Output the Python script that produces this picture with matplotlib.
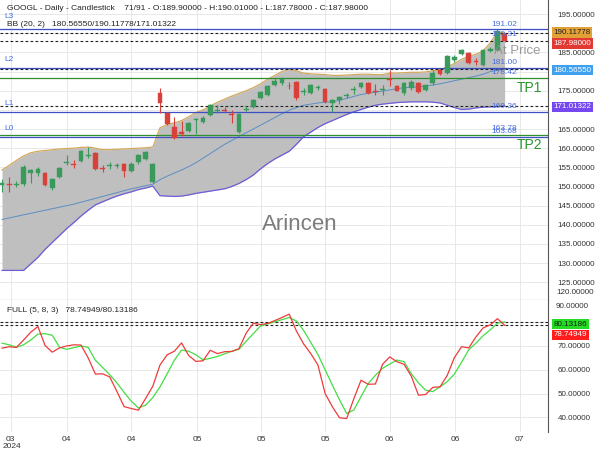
import matplotlib
matplotlib.use("Agg")
import matplotlib.pyplot as plt
import matplotlib.transforms as mtransforms
import numpy as np

plt.rcParams["font.family"] = ["Liberation Sans", "DejaVu Sans"]

# daily OHLC, GOOGL
opens = [150.4, 150.6, 150.4, 150.6, 153.4, 153.5, 153.4, 149.7, 152.5, 156.2,
         155.8, 156.6, 158.0, 158.7, 154.7, 155.3, 155.3, 155.9, 154.1, 156.3,
         157.2, 151.1, 174.3, 169.2, 165.5, 164.2, 164.5, 167.4, 166.8, 168.6,
         169.8, 170.0, 168.8, 164.2, 170.0, 170.8, 173.0, 173.9, 176.5, 176.9,
         176.3, 177.2, 174.7, 174.5, 175.8, 175.4, 171.8, 172.7, 173.5, 175.3,
         176.0, 176.9, 174.9, 175.3, 177.9, 176.2, 174.3, 175.6, 177.1, 175.2,
         176.9, 180.3, 179.6, 182.9, 184.7, 184.8, 182.7, 181.8, 185.3, 185.7,
         189.9]
highs = [152.0, 152.5, 151.5, 155.5, 154.6, 155.0, 153.8, 152.3, 155.2, 158.2,
         156.8, 159.5, 160.2, 159.0, 155.5, 156.3, 156.2, 156.2, 156.4, 158.4,
         159.3, 156.2, 175.6, 169.5, 168.2, 167.0, 166.9, 167.9, 168.3, 171.5,
         171.2, 170.8, 169.9, 169.3, 171.0, 172.9, 174.9, 176.5, 178.4, 178.6,
         177.3, 177.5, 175.6, 176.8, 176.6, 175.7, 172.9, 173.7, 174.3, 176.2,
         177.2, 177.2, 176.8, 176.4, 180.4, 176.5, 177.2, 177.7, 177.4, 176.8,
         180.5, 180.6, 184.4, 184.2, 186.0, 185.1, 183.6, 185.8, 186.3, 191.02,
         190.01]
lows = [148.5, 148.5, 149.8, 150.2, 151.0, 152.8, 150.0, 149.2, 152.2, 155.5,
        154.8, 156.4, 157.5, 154.3, 153.8, 154.6, 154.8, 152.4, 153.8, 156.0,
        157.0, 150.8, 169.2, 166.0, 162.4, 163.3, 164.3, 163.6, 166.5, 168.4,
        169.3, 169.4, 166.5, 164.0, 169.6, 170.5, 172.8, 173.6, 176.2, 176.6,
        175.5, 172.6, 173.8, 174.2, 175.2, 171.8, 169.5, 171.5, 173.0, 174.2,
        175.7, 174.2, 173.8, 174.0, 176.2, 174.8, 174.0, 175.3, 174.4, 175.0,
        176.6, 179.1, 179.3, 182.6, 184.4, 181.9, 181.6, 181.5, 185.0, 185.4,
        187.78]
closes = [150.8, 150.4, 150.6, 155.1, 154.3, 154.6, 150.4, 152.0, 154.8, 156.4,
          155.6, 159.2, 158.2, 154.6, 154.5, 155.5, 155.5, 154.1, 156.0, 158.1,
          159.0, 155.9, 171.8, 166.4, 162.7, 163.6, 166.6, 167.6, 168.0, 171.2,
          170.0, 169.8, 168.6, 169.0, 170.2, 172.6, 174.6, 176.2, 177.6, 178.0,
          176.1, 173.0, 174.9, 176.5, 176.0, 172.1, 172.6, 173.4, 173.7, 175.5,
          176.9, 174.5, 174.7, 175.5, 177.7, 175.0, 176.9, 177.4, 174.7, 176.5,
          179.6, 179.4, 184.1, 183.9, 185.7, 182.2, 182.5, 185.5, 185.9, 190.5,
          187.98]

# Bollinger (20, 2)
bb_upper = [154.3, 155.5, 156.8, 158.0, 158.8, 159.2, 159.4, 159.6, 159.8, 159.9,
            160.0, 160.2, 160.3, 160.0, 159.6, 159.6, 159.7, 159.8, 159.9, 160.0,
            160.1, 160.3, 165.3, 166.2, 166.6, 167.2, 168.2, 169.3, 170.0, 171.0,
            172.0, 172.8, 173.6, 174.3, 175.0, 175.8, 176.8, 178.0, 179.0, 180.0,
            180.6, 180.2, 179.6, 179.4, 179.3, 179.2, 179.0, 179.0, 179.1, 179.2,
            179.3, 179.3, 179.2, 179.2, 179.6, 179.6, 179.7, 179.8, 179.8, 179.9,
            180.2, 180.5, 181.2, 182.1, 183.2, 184.0, 184.5, 185.4, 187.5, 190.3,
            190.11778]
bb_mid = [141.4, 141.8, 142.2, 142.6, 143.0, 143.4, 143.8, 144.2, 144.6, 145.0,
          145.4, 145.9, 146.4, 146.9, 147.4, 147.9, 148.4, 148.9, 149.4, 149.8,
          150.2, 150.6, 151.8, 152.7, 153.5, 154.3, 155.2, 156.2, 157.4, 158.6,
          159.8, 161.0, 162.0, 163.1, 164.0, 165.0, 166.0, 167.0, 168.0, 169.0,
          169.9, 170.6, 171.2, 171.5, 171.8, 172.0, 172.1, 172.5, 173.0, 173.5,
          174.0, 174.3, 174.6, 174.9, 175.2, 175.5, 175.8, 175.9, 176.0, 176.2,
          176.5, 176.8, 177.2, 177.6, 178.0, 178.4, 178.8, 179.3, 180.0, 180.3,
          180.5655]
bb_lower = [128.1, 128.1, 128.1, 128.1, 129.8, 131.5, 133.6, 135.4, 137.2, 139.0,
            140.6, 142.3, 143.8, 145.2, 146.0, 146.8, 147.5, 148.1, 148.6, 149.2,
            149.6, 150.1, 147.6, 147.5, 147.4, 147.5, 147.8, 148.2, 148.5, 148.8,
            149.1, 149.4, 150.0, 150.8, 151.8, 153.0, 154.6, 156.0, 157.2, 158.2,
            159.2, 161.0, 163.0, 164.2, 165.4, 166.4, 167.2, 168.0, 168.8, 169.5,
            170.1, 170.7, 171.2, 171.5, 171.7, 171.9, 172.0, 172.1, 172.1, 172.1,
            172.0, 171.8, 171.2, 170.6, 170.1, 170.2, 170.5, 170.7, 170.8, 170.9,
            171.01322]

# Full stochastic (5, 8, 3)
stoch_k = [69.1, 69.7, 69.4, 72.5, 75.8, 78.2, 70.2, 67.4, 69.2, 70.0,
           70.5, 70.4, 65.0, 58.2, 58.3, 57.0, 50.9, 44.5, 43.7, 43.0,
           47.9, 53.1, 62.0, 66.3, 67.8, 71.3, 66.0, 63.5, 63.8, 68.2,
           66.8, 67.6, 67.7, 68.9, 75.4, 79.6, 79.0, 79.5, 80.7, 82.0,
           83.4, 76.3, 70.9, 66.8, 62.0, 50.0, 44.5, 39.8, 39.5, 47.8,
           55.6, 53.9, 54.0, 62.3, 65.4, 63.4, 62.3, 57.3, 49.3, 49.6,
           52.6, 52.8, 57.6, 65.1, 69.7, 69.2, 73.8, 77.6, 78.9, 81.5,
           78.74949]
stoch_d = [71.2, 70.5, 69.5, 70.5, 72.5, 75.0, 75.2, 74.5, 69.5, 68.6,
           69.3, 70.0, 69.4, 64.0, 61.0, 57.9, 54.5, 50.5, 46.8, 43.9,
           45.1, 48.3, 52.8, 58.3, 64.0, 68.3, 67.8, 66.3, 64.2, 64.8,
           65.6, 66.7, 67.8, 68.6, 72.0, 75.2, 78.4, 79.3, 80.2, 81.1,
           82.0, 80.5, 76.6, 71.5, 66.4, 60.0, 53.6, 47.4, 41.6, 43.1,
           48.7, 54.2, 57.7, 60.6, 62.4, 64.1, 63.4, 58.3, 54.5, 51.4,
           50.8, 52.8, 55.0, 58.2, 63.2, 68.4, 71.2, 74.3, 76.8, 79.6,
           80.13186]

# horizontal levels
level_names = ["L0", "L1", "L2", "L3"]
level_values = [162.84, 169.36, 181.00, 191.02]
tp_names = ["TP1", "TP2"]
tp_values = [178.42, 163.52]

tick_pos = [1.2, 9.0, 18.0, 27.2, 36.1, 45.0, 54.0, 63.1, 72.1]
tick_labels = ["03", "04", "04", "05", "05", "05", "06", "06", "07"]

# price-axis ticks that stay visible (the others sit under the value tags)
price_ticks = [125, 130, 135, 140, 145, 150, 155, 160, 165, 175, 185, 195]
stoch_ticks = [40, 50, 60, 70]

opens, highs, lows, closes = map(np.array, (opens, highs, lows, closes))
x = np.arange(len(closes))

W, H = 600, 450
fig = plt.figure(figsize=(6, 4.5), dpi=100)
ax = fig.add_axes([0, 1 - 300 / H, 548 / W, 300 / H])
ax2 = fig.add_axes([0, 18 / H, 548 / W, 132 / H], sharex=ax)


def ftext(px, py, s, **kw):
    fig.text(px / W, 1 - py / H, s, **kw)


for a in (ax, ax2):
    a.set_xlim(-0.28, 76.04)
    for side in ("left", "top"):
        a.spines[side].set_visible(False)
    a.spines["right"].set_color("#555555")
    a.spines["bottom"].set_color("#555555")
    a.yaxis.tick_right()
    a.tick_params(axis="y", length=0, pad=7, labelsize=5.8, labelcolor="#333333")
    a.set_axisbelow(True)
ax2.spines["bottom"].set_visible(False)

# ---- price panel ----
ax.set_ylim(120.38, 198.67)
ax.set_yticks(price_ticks)
ax.set_yticklabels([f"{v:.5f}" for v in price_ticks])
ax.set_yticks(np.arange(125, 200, 5), minor=True)
ax.tick_params(axis="x", length=0, labelbottom=False)
ax.tick_params(axis="y", which="minor", length=0)
ax.grid(True, which="both", axis="y", color="#e4e4e4", lw=0.6)
ax.grid(True, axis="x", color="#e4e4e4", lw=0.6)

ax.fill_between(x, bb_lower, bb_upper, color="#bfbfbf", lw=0, zorder=1)
ax.plot(x, bb_upper, color="#d4a85c", lw=0.9, zorder=2)
ax.plot(x, bb_lower, color="#6c5ed8", lw=0.9, zorder=2)
ax.plot(x, bb_mid, color="#5a8ec4", lw=0.7, zorder=2)

for v in level_values:
    ax.axhline(v, color="#3d4fc4", lw=0.9, zorder=3)
for v in tp_values:
    ax.axhline(v, color="#2f8f2f", lw=0.9, zorder=3)
for v in (bb_upper[-1], bb_mid[-1], bb_lower[-1], closes[-1]):
    ax.axhline(v, color="#222222", lw=0.8, ls=(0, (2.5, 2)), zorder=3)

up = closes >= opens
col = np.where(up, "#3a9a5c", "#d8403a")
ax.vlines(x, lows, highs, colors=col, lw=0.8, zorder=5)
body = np.maximum(np.abs(closes - opens), 0.25)
ax.bar(x, body, bottom=np.minimum(opens, closes), width=0.66,
       color=col, edgecolor=col, lw=0.3, zorder=6)

# right-hand price tags
trans = mtransforms.blended_transform_factory(ax.transAxes, ax.transData)
tags = [(190.2, f"{bb_upper[-1]:.5f}", "#e2a137", "#222222"),
        (187.3, f"{closes[-1]:.5f}", "#e23a33", "white"),
        (180.35, f"{bb_mid[-1]:.5f}", "#3fa0f0", "white"),
        (170.8, f"{bb_lower[-1]:.5f}", "#7549ef", "white")]
for ypos, s, bg, fg in tags:
    ax.text(1.01, ypos, s, transform=trans, ha="left", va="center",
            fontsize=5.8, color=fg, clip_on=False, zorder=10,
            bbox=dict(boxstyle="square,pad=0.2", fc=bg, ec="none"))
ftext(556, 293, "120.00000", fontsize=5.8, color="#333333", va="center")

# level labels
blue = "#4a6fe0"
ftext(4, 17, "L3", fontsize=6, color=blue, va="center")
ftext(4, 59, "L2", fontsize=6, color=blue, va="center")
ftext(4, 104, "L1", fontsize=6, color=blue, va="center")
ftext(4, 128, "L0", fontsize=6, color=blue, va="center")
for py, s in [(24, "191.02"), (35, "190.31"), (62, "181.00"), (72.5, "178.42"),
              (107, "169.36"), (128.5, "163.78"), (131.5, "163.68")]:
    ftext(504, py, s, fontsize=6, color=blue, ha="center", va="center", zorder=0)
ftext(517, 88, "TP1", fontsize=10, color="#2a962a", va="center")
ftext(517, 145, "TP2", fontsize=10, color="#2a962a", va="center")
ftext(494, 51, "At Price", fontsize=9.5, color="#8c8c8c", va="center", alpha=0.85)
ftext(300, 224, "Arincen", fontsize=16, color="#6e6e6e", ha="center", va="center",
      alpha=0.9)

ftext(7, 9, "GOOGL - Daily - Candlestick    71/91 - O:189.90000 - H:190.01000 - "
      "L:187.78000 - C:187.98000", fontsize=6, color="#222222", va="center")
ftext(7, 25, "BB (20, 2)   180.56550/190.11778/171.01322", fontsize=6,
      color="#222222", va="center")

# ---- stochastic panel ----
ax2.set_ylim(33.82, 89.35)
ax2.set_yticks(stoch_ticks)
ax2.set_yticklabels([f"{v:.5f}" for v in stoch_ticks])
ax2.set_yticks([80], minor=True)
ax2.tick_params(axis="y", which="minor", length=0)
ax2.grid(True, which="both", axis="y", color="#e4e4e4", lw=0.6)
ax2.grid(True, axis="x", color="#e4e4e4", lw=0.6)
ax2.plot(x, stoch_d, color="#44dd44", lw=0.9, zorder=3)
ax2.plot(x, stoch_k, color="#ee3b3b", lw=0.9, zorder=4)
for v in (stoch_d[-1], stoch_k[-1]):
    ax2.axhline(v, color="#222222", lw=0.8, ls=(0, (2.5, 2)), zorder=2)

trans2 = mtransforms.blended_transform_factory(ax2.transAxes, ax2.transData)
for ypos, s, bg, fg in [(79.2, f"{stoch_d[-1]:.5f}", "#22dd22", "#1a1a1a"),
                        (74.7, f"{stoch_k[-1]:.5f}", "#ff1c1c", "white")]:
    ax2.text(1.01, ypos, s, transform=trans2, ha="left", va="center",
             fontsize=5.8, color=fg, clip_on=False, zorder=10,
             bbox=dict(boxstyle="square,pad=0.2", fc=bg, ec="none"))
ftext(556, 306.5, "90.00000", fontsize=5.8, color="#333333", va="center")
ftext(7, 311, "FULL (5, 8, 3)   78.74949/80.13186", fontsize=6,
      color="#222222", va="center")

ax2.set_xticks(tick_pos)
ax2.set_xticklabels(tick_labels)
ax2.tick_params(axis="x", length=0, pad=3, labelsize=6, labelcolor="#333333")
ftext(3, 446, "2024", fontsize=6, color="#333333", va="center")

fig.savefig("out.png", dpi=100)
